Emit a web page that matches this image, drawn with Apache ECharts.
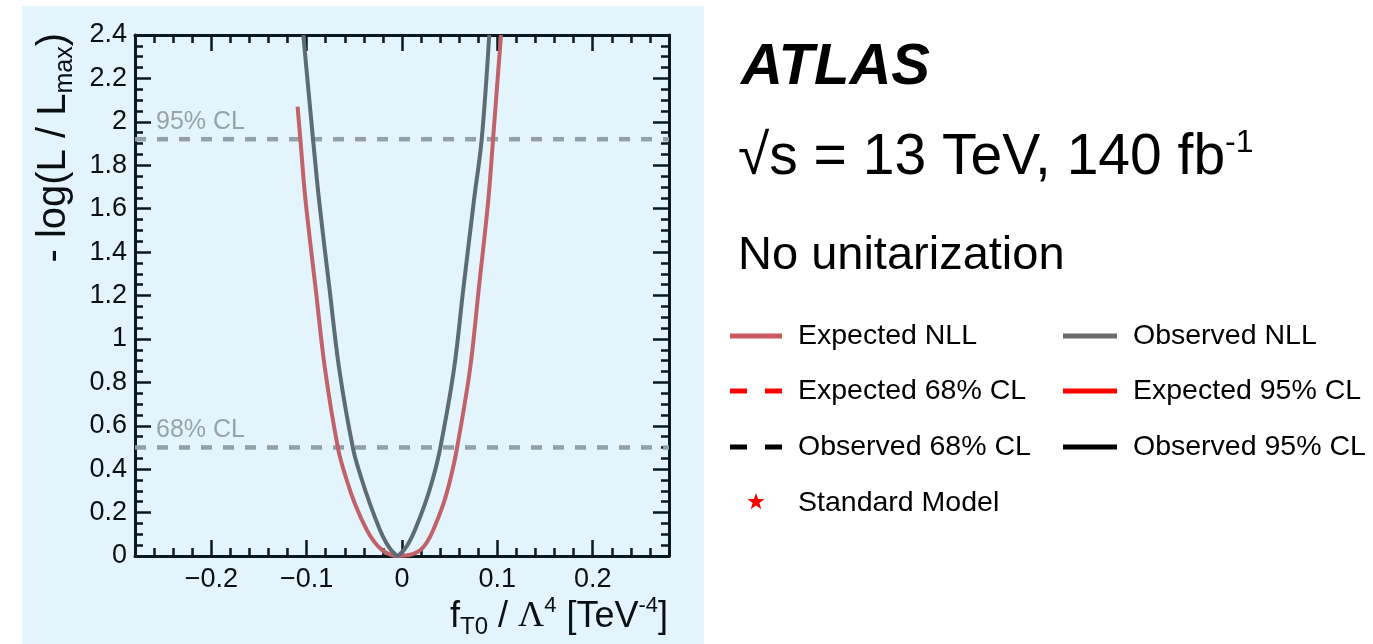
<!DOCTYPE html>
<html>
<head>
<meta charset="utf-8">
<script src="https://cdn.jsdelivr.net/npm/echarts@6/dist/echarts.min.js"></script>
<style>
  html, body { margin: 0; padding: 0; background: #ffffff; }
  #chart { width: 1373px; height: 644px; }
</style>
</head>
<body>
<div id="chart"></div>
<script>
// Expected negative log-likelihood scan in f_T0 / Lambda^4
const expectedX = [-0.1095, -0.1066, -0.1012, -0.0905, -0.0807, -0.0668, -0.0580, -0.0493, -0.0370, -0.0290, -0.0210, -0.0130, -0.0040,
                   0.0040, 0.0120, 0.0200, 0.0260, 0.0328, 0.0434, 0.0505, 0.0574, 0.0713, 0.0805, 0.0905, 0.0955, 0.1038];
const expectedY = [2.07, 1.92, 1.64, 1.23, 0.86, 0.49, 0.35, 0.24, 0.12, 0.065, 0.028, 0.008, 0.0,
                   0.002, 0.010, 0.030, 0.062, 0.12, 0.24, 0.35, 0.49, 0.86, 1.23, 1.64, 1.92, 2.40];

// Observed negative log-likelihood scan
const observedX = [-0.1035, -0.0933, -0.0870, -0.0760, -0.0658, -0.0511, -0.0420, -0.0336, -0.0231, -0.0167, -0.0117, -0.0077, -0.0047,
                   -0.0017, 0.0023, 0.0073, 0.0136, 0.0241, 0.0320, 0.0398, 0.0545, 0.0643, 0.0755, 0.0836, 0.0915];
const observedY = [2.40, 1.92, 1.64, 1.23, 0.86, 0.49, 0.35, 0.24, 0.12, 0.062, 0.029, 0.010, 0.0,
                   0.010, 0.029, 0.062, 0.12, 0.24, 0.35, 0.49, 0.86, 1.23, 1.64, 1.92, 2.40];

// Confidence-level thresholds on -log(L/Lmax)
const clLevels = [0.5, 1.92];
const clNames = ['68% CL', '95% CL'];

// Axis ranges and tick values
const xRange = [-0.28, 0.28];
const yRange = [0, 2.4];
const xMajorTicks = [-0.2, -0.1, 0, 0.1, 0.2];

// Legend entries (two columns)
const legendNames = [
  ['Expected NLL', 'Expected 68% CL', 'Observed 68% CL', 'Standard Model'],
  ['Observed NLL', 'Expected 95% CL', 'Observed 95% CL']
];

const FONT = '"Liberation Sans", Arial, Helvetica, sans-serif';
const AXIS_COLOR = '#0a1820';
const TEXT_COLOR = '#0a0f14';
const RED_CURVE = '#c1616a';
const GREY_CURVE = '#5d6c74';
const CL_COLOR = '#94a0a6';

const chart = echarts.init(document.getElementById('chart'), null, { renderer: 'canvas' });

function pairs(xs, ys) { return xs.map((x, i) => [x, ys[i]]); }

function fmtX(v) {
  const r = Math.round(v * 10) / 10;
  if (r === 0) return '0';
  return (r < 0 ? '\u2212' : '') + Math.abs(r).toString();
}

const tickLine = { color: AXIS_COLOR, width: 2.5 };

function xAxisPair(position) {
  return [
    {
      type: 'value', position, min: xRange[0], max: xRange[1], interval: 0.02,
      axisLine: { show: true, onZero: false, lineStyle: { color: AXIS_COLOR, width: 3 } },
      axisTick: { show: true, inside: true, length: 8, lineStyle: tickLine },
      axisLabel: { show: false }, splitLine: { show: false }
    },
    {
      type: 'value', position, min: xRange[0], max: xRange[1],
      axisLine: { show: false, onZero: false },
      axisTick: { show: true, inside: true, length: 16, customValues: xMajorTicks, lineStyle: tickLine },
      axisLabel: position === 'bottom'
        ? { show: true, customValues: xMajorTicks, formatter: fmtX, fontSize: 27, fontFamily: FONT, color: TEXT_COLOR, margin: 10 }
        : { show: false },
      splitLine: { show: false }
    }
  ];
}

function yAxisDef(position) {
  return {
    type: 'value', position, min: yRange[0], max: yRange[1], interval: 0.2,
    axisLine: { show: true, onZero: false, lineStyle: { color: AXIS_COLOR, width: 3 } },
    axisTick: { show: true, inside: true, length: 16, lineStyle: tickLine },
    minorTick: { show: true, splitNumber: 4, length: 8, lineStyle: tickLine },
    axisLabel: position === 'left'
      ? { show: true, fontSize: 27, fontFamily: FONT, color: TEXT_COLOR, margin: 8,
          formatter: v => String(Math.round(v * 10) / 10) }
      : { show: false },
    splitLine: { show: false }
  };
}

const clSeries = clLevels.map((lv, i) => ({
  name: clNames[i], type: 'line', xAxisIndex: 0, yAxisIndex: 0,
  data: [[xRange[0], lv], [xRange[1], lv]],
  showSymbol: false, symbol: 'none', silent: true, z: 3,
  lineStyle: { color: CL_COLOR, width: 4.5, type: [11, 11] }
}));

chart.setOption({
  animation: false,
  backgroundColor: 'transparent',
  grid: { left: 135, top: 35, width: 534, height: 521, outerBoundsMode: 'none' },
  xAxis: [...xAxisPair('bottom'), ...xAxisPair('top')],
  yAxis: [yAxisDef('left'), yAxisDef('right')],
  series: [
    ...clSeries,
    {
      name: 'Expected NLL', type: 'line', xAxisIndex: 0, yAxisIndex: 0,
      data: pairs(expectedX, expectedY), smooth: 0.35,
      showSymbol: false, symbol: 'none', z: 4,
      lineStyle: { color: RED_CURVE, width: 4 }
    },
    {
      name: 'Observed NLL', type: 'line', xAxisIndex: 0, yAxisIndex: 0,
      data: pairs(observedX, observedY), smooth: 0.35,
      showSymbol: false, symbol: 'none', z: 5,
      lineStyle: { color: GREY_CURVE, width: 4 }
    }
  ]
});

// ---- annotation layer ----
const g = [];

// light blue panel behind the plot
g.push({ type: 'rect', z: -100, silent: true,
  shape: { x: 22, y: 6, width: 682, height: 640 }, style: { fill: '#e3f4fc' } });

// CL labels, placed from the y scale
clLevels.forEach((lv, i) => {
  const py = chart.convertToPixel({ yAxisIndex: 0 }, lv);
  g.push({ type: 'text', x: 156, y: py - 5, z: 10, silent: true,
    style: { text: clNames[i], font: '25px ' + FONT, fill: '#98a3a8', align: 'left', verticalAlign: 'bottom' } });
});

// y-axis title, reading bottom-to-top, ending at the top of the axis
g.push({ type: 'text', x: 54, y: 33, rotation: Math.PI / 2, z: 10, silent: true,
  style: {
    text: '{n|- log(L / L}{s|max}{n|)}', align: 'right', verticalAlign: 'middle',
    rich: {
      n: { fontSize: 40, fontFamily: FONT, fill: TEXT_COLOR, lineHeight: 48, verticalAlign: 'middle' },
      s: { fontSize: 25, fontFamily: FONT, fill: TEXT_COLOR, lineHeight: 25, verticalAlign: 'bottom' }
    }
  } });

// x-axis title
g.push({ type: 'text', x: 668, y: 617, z: 10, silent: true,
  style: {
    text: '{n|f}{s|T0}{n| / }{l|\u039B}{p|4}{n| [TeV}{p|-4}{n|]}', align: 'right', verticalAlign: 'middle',
    rich: {
      n: { fontSize: 36, fontFamily: FONT, fill: TEXT_COLOR, lineHeight: 44, verticalAlign: 'middle' },
      l: { fontSize: 36, fontFamily: '"Liberation Serif", "DejaVu Serif", serif', fill: TEXT_COLOR, lineHeight: 44, verticalAlign: 'middle' },
      s: { fontSize: 24, fontFamily: FONT, fill: TEXT_COLOR, lineHeight: 24, verticalAlign: 'bottom' },
      p: { fontSize: 22, fontFamily: FONT, fill: TEXT_COLOR, lineHeight: 22, verticalAlign: 'top' }
    }
  } });

// experiment label and run conditions
g.push({ type: 'text', x: 741, y: 68, z: 10, silent: true,
  style: { text: 'ATLAS', font: 'italic bold 58px ' + FONT, fill: '#000', align: 'left', verticalAlign: 'middle' } });
g.push({ type: 'text', x: 738, y: 158, z: 10, silent: true,
  style: {
    text: '{n|\u221As = 13 TeV, 140 fb}{p|-1}', align: 'left', verticalAlign: 'middle',
    rich: {
      n: { fontSize: 57, fontFamily: FONT, fill: '#000', lineHeight: 62, verticalAlign: 'middle' },
      p: { fontSize: 32, fontFamily: FONT, fill: '#000', lineHeight: 32, verticalAlign: 'top' }
    }
  } });
g.push({ type: 'text', x: 738, y: 256, z: 10, silent: true,
  style: { text: 'No unitarization', font: '47px ' + FONT, fill: '#000', align: 'left', verticalAlign: 'middle' } });

// legend
const rowY = [336, 391, 447, 503];
const colX = [[730, 782, 798], [1063, 1117, 1133]];
const legendStyle = {
  'Expected NLL': { color: '#cc5a60', dashed: false },
  'Observed NLL': { color: '#6b6b6b', dashed: false },
  'Expected 68% CL': { color: '#ff0000', dashed: true },
  'Expected 95% CL': { color: '#ff0000', dashed: false },
  'Observed 68% CL': { color: '#000000', dashed: true },
  'Observed 95% CL': { color: '#000000', dashed: false }
};
legendNames.forEach((col, c) => {
  col.forEach((name, r) => {
    const [x0, x1, tx] = colX[c];
    const y = rowY[r];
    const st = legendStyle[name];
    if (st) {
      if (st.dashed) {
        g.push({ type: 'line', z: 10, silent: true, shape: { x1: x0, y1: y, x2: x0 + 17, y2: y }, style: { stroke: st.color, lineWidth: 5 } });
        g.push({ type: 'line', z: 10, silent: true, shape: { x1: x1 - 17, y1: y, x2: x1, y2: y }, style: { stroke: st.color, lineWidth: 5 } });
      } else {
        g.push({ type: 'line', z: 10, silent: true, shape: { x1: x0, y1: y, x2: x1, y2: y }, style: { stroke: st.color, lineWidth: 5 } });
      }
    } else {
      // star marker
      const cx = (x0 + x1) / 2, cy = y - 1, R = 9, ri = 3.6;
      const pts = [];
      for (let k = 0; k < 10; k++) {
        const a = -Math.PI / 2 + k * Math.PI / 5;
        const rr = k % 2 === 0 ? R : ri;
        pts.push([cx + rr * Math.cos(a), cy + rr * Math.sin(a)]);
      }
      g.push({ type: 'polygon', z: 10, silent: true, shape: { points: pts }, style: { fill: '#ff0000' } });
    }
    g.push({ type: 'text', x: tx, y: y, z: 10, silent: true,
      style: { text: name, font: '28.5px ' + FONT, fill: '#000', align: 'left', verticalAlign: 'middle' } });
  });
});

chart.setOption({ graphic: g });
</script>
</body>
</html>
